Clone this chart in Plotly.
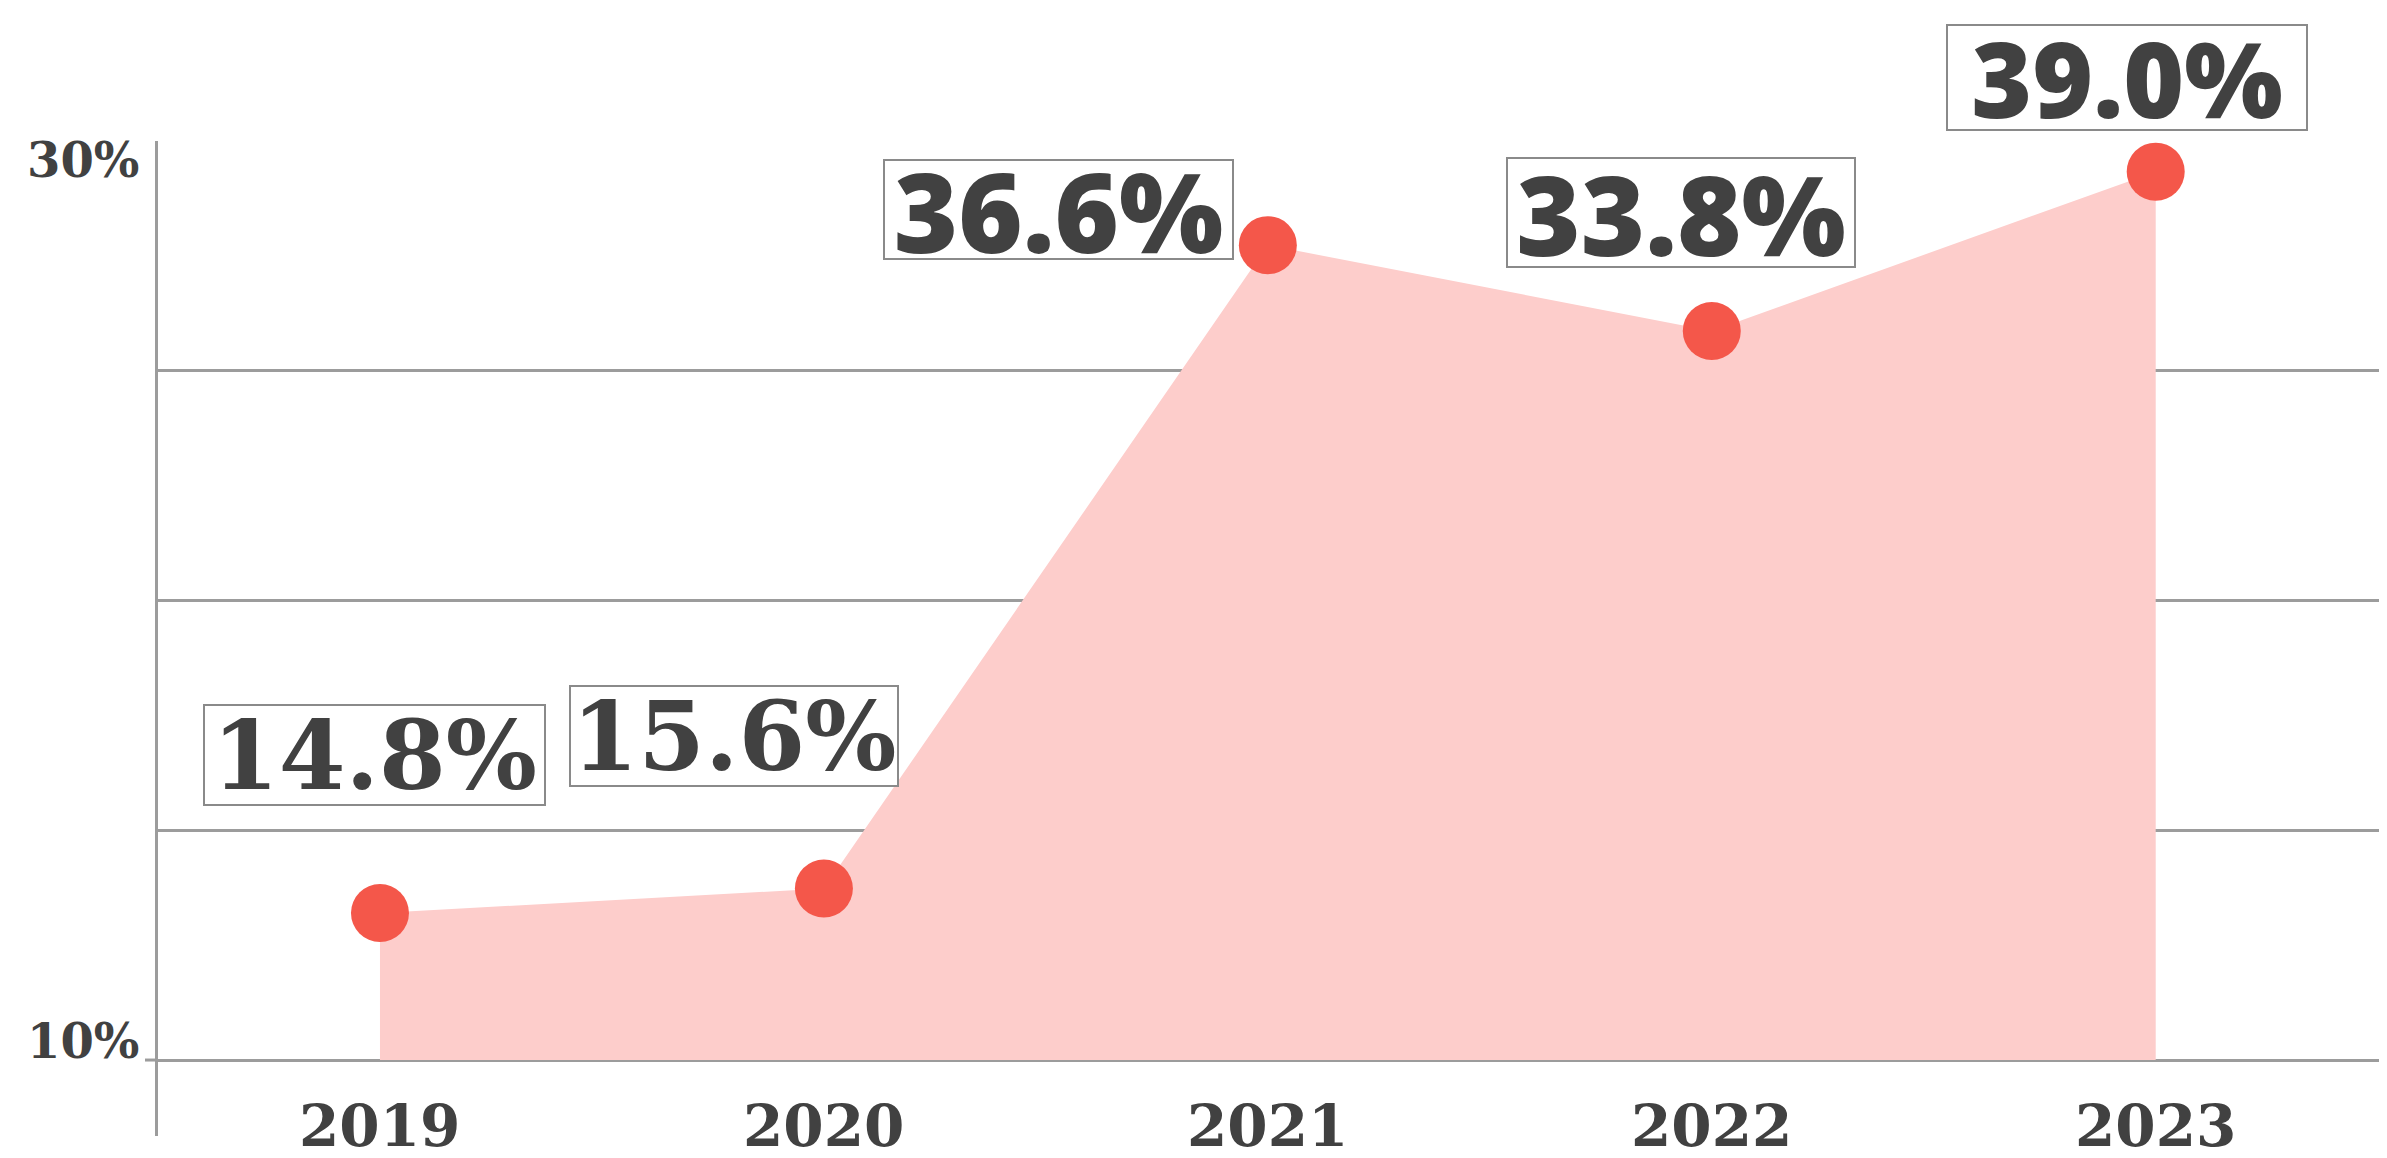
import plotly.graph_objects as go

# ---- data ----
years = ["2019", "2020", "2021", "2022", "2023"]
values = [14.8, 15.6, 36.6, 33.8, 39.0]
y_tick_vals = [10, 17.5, 25, 32.5, 40]
y_tick_text = ["10%", "", "", "", "30%"]
axis_floor = 10

# ---- styles ----
TEXT = "#414141"
GRID = "#9c9c9c"
FILL = "#FDCDCB"
DOT = "#F4574A"

# label placement (pixel offsets from each point) and box sizes
label_dx = [-5, -90, -209, -31, -29]
label_dy = [158, 152, 36, 118, 94]
label_w = [339, 326, 347, 346, 358]
label_h = [98, 98, 97, 107, 103]
label_font = ["DejaVu Serif", "DejaVu Serif", "Open Sans", "Open Sans", "Open Sans"]
label_size = [96, 96, 110, 110, 104]
label_weight = [700, 700, 800, 800, 800]

fig = go.Figure()
fig.add_trace(go.Scatter(x=years, y=[axis_floor] * len(years), mode="lines",
                         line=dict(width=0), hoverinfo="skip", showlegend=False))
fig.add_trace(go.Scatter(x=years, y=values, mode="lines", fill="tonexty",
                         fillcolor=FILL, line=dict(width=0, color=FILL),
                         hoverinfo="skip", showlegend=False))
fig.add_trace(go.Scatter(x=years, y=values, mode="markers",
                         marker=dict(size=58, color=DOT, line=dict(width=0)),
                         showlegend=False, cliponaxis=False))

annotations = []
for i, (yr, v) in enumerate(zip(years, values)):
    annotations.append(dict(
        x=i, y=v, xref="x", yref="y", text=f"{v:.1f}%", showarrow=False,
        xshift=label_dx[i], yshift=label_dy[i],
        width=label_w[i], height=label_h[i], align="center", valign="middle",
        bgcolor="white", bordercolor="#8a8a8a", borderwidth=2, borderpad=0,
        font=dict(family=label_font[i], size=label_size[i], color=TEXT,
                  weight=label_weight[i]),
    ))

# year labels
for i, yr in enumerate(years):
    annotations.append(dict(
        x=i, y=0, xref="x", yref="paper", text=yr, showarrow=False,
        yanchor="middle", yshift=10, height=58, valign="middle",
        font=dict(family="DejaVu Serif", size=58, color=TEXT, weight=700),
    ))

# y labels (only the ends are labelled)
for tv, tt in zip(y_tick_vals, y_tick_text):
    if not tt:
        continue
    annotations.append(dict(
        x=-0.0076, y=tv, xref="paper", yref="y", text=tt, showarrow=False,
        xanchor="right", yanchor="middle", yshift=(-19 if tv == max(y_tick_vals) else 19),
        font=dict(family="DejaVu Serif", size=48, color=TEXT, weight=700),
    ))

fig.update_layout(
    width=2387, height=1158,
    margin=dict(l=150, r=4, t=133, b=30),
    paper_bgcolor="white", plot_bgcolor="white",
    annotations=annotations,
    shapes=[dict(type="line", xref="paper", yref="y", x0=-13 / 2233, x1=0,
                 y0=axis_floor, y1=axis_floor, line=dict(color=GRID, width=3))],
    xaxis=dict(type="category", range=[-0.5, 4.53], showgrid=False,
               showticklabels=False, zeroline=False, showline=False, ticks=""),
    yaxis=dict(range=[7.52, 40], tickvals=y_tick_vals, showticklabels=False,
               showgrid=True, gridcolor=GRID, gridwidth=3, zeroline=False,
               showline=True, linecolor=GRID, linewidth=3, ticks=""),
)

fig.write_html("out.html")
